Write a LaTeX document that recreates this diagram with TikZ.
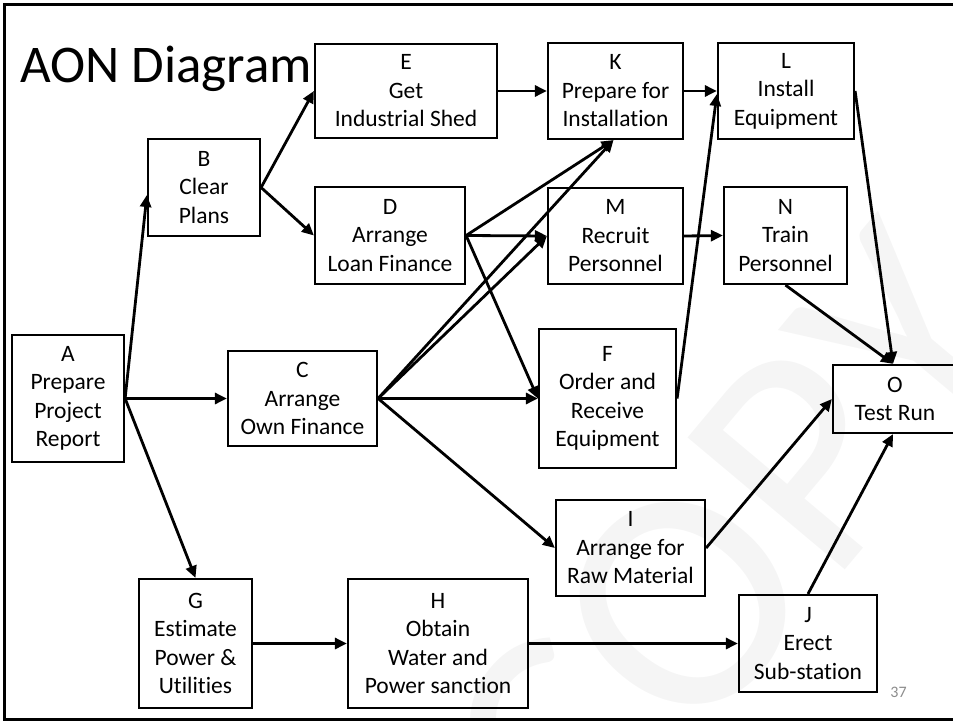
\documentclass[tikz,border=0pt]{standalone}
\usepackage{fontspec}
\setmainfont{Carlito}[Ligatures=NoCommon]
\usetikzlibrary{arrows.meta}
\begin{document}
\begin{tikzpicture}[x=1pt,y=-1pt,
  act/.style={draw, line width=2.2pt, inner sep=0pt, align=center,
    font=\fontsize{23.5}{28.5}\selectfont},
  link/.style={line width=2.8pt, -{Triangle[length=12pt,width=11pt]}},
  frameline/.style={line width=2.8pt}]
\useasboundingbox (0,0) rectangle (953,722);

% faint watermark behind the network
\begin{scope}
  \clip (4,4) rectangle (953,720);
  \node[text=black!4, rotate=50, inner sep=0pt,
    font=\fontsize{320}{320}\selectfont] (wm) at (732,545) {COPY};
\end{scope}

% slide frame
\draw[frameline] (960,4.5) -- (4.3,4.5) -- (4.3,719.5) -- (960,719.5);

% title and page number
\node[anchor=base west, inner sep=0pt, font=\fontsize{53}{60}\selectfont]
  (title) at (20,83) {AON Diagram};
\node[anchor=base, inner sep=0pt, text=black!45, font=\fontsize{16}{18}\selectfont]
  (pg) at (898.5,697) {37};

% activities
\node[act, minimum width=112pt, minimum height=127pt] (A) at (68,398.5)
  {A\\Prepare\\Project\\Report};
\node[act, minimum width=112pt, minimum height=97pt] (B) at (204,187.5)
  {B\\Clear\\Plans};
\node[act, minimum width=182pt, minimum height=94pt] (E) at (406,91)
  {E\\Get\\Industrial Shed};
\node[act, minimum width=150pt, minimum height=97pt] (D) at (390,235.5)
  {D\\Arrange\\Loan Finance};
\node[act, minimum width=135pt, minimum height=96pt] (K) at (615.5,91)
  {K\\Prepare for\\Installation};
\node[act, minimum width=136pt, minimum height=96pt] (L) at (786,91)
  {L\\Install\\Equipment};
\node[act, minimum width=135pt, minimum height=96pt] (M) at (615.5,236)
  {M\\Recruit\\Personnel};
\node[act, minimum width=123pt, minimum height=97pt] (N) at (785.5,235.5)
  {N\\Train\\Personnel};
\node[act, minimum width=149pt, minimum height=95pt] (C) at (302.5,398.5)
  {C\\Arrange\\Own Finance};
\node[act, minimum width=137pt, minimum height=139pt] (F) at (607.5,398.5)
  {F\\Order and\\Receive\\Equipment};
\node[act, minimum width=124pt, minimum height=68pt] (O) at (895,399)
  {O\\Test Run};
\node[act, minimum width=149pt, minimum height=96pt] (I) at (630.5,548)
  {I\\Arrange for\\Raw Material};
\node[act, minimum width=138pt, minimum height=97pt] (J) at (808,643.5)
  {J\\Erect\\Sub-station};
\node[act, minimum width=113pt, minimum height=129pt] (G) at (195.5,643.5)
  {G\\Estimate\\Power \&\\Utilities};
\node[act, minimum width=180pt, minimum height=129pt] (H) at (438,643.5)
  {H\\Obtain\\Water and\\Power sanction};

% precedence links
\draw[link] (A.east) -- ([yshift=-7.5pt]B.west);
\draw[link] (A.east) -- (C.west);
\draw[link] (A.east) -- (G.north);
\draw[link] (B.east) -- (E.west);
\draw[link] (B.east) -- (D.west);
\draw[link] (E.east) -- (K.west);
\draw[link] (K.east) -- (L.west);
\draw[link] (D.east) -- ([xshift=-2pt]K.south);
\draw[link] (D.east) -- (M.west);
\draw[link] (D.east) -- (F.west);
\draw[link] (C.east) -- ([xshift=-2pt]K.south);
\draw[link] (C.east) -- (M.west);
\draw[link] (C.east) -- (F.west);
\draw[link] (C.east) -- (I.west);
\draw[link] (M.east) -- (N.west);
\draw[link] (F.east) -- ([yshift=-3pt]L.west);
\draw[link] (L.east) -- ([xshift=-2pt]O.north);
\draw[link] (N.south) -- ([xshift=-2pt]O.north);
\draw[link] (I.east) -- (O.west);
\draw[link] (J.north) -- ([xshift=-2pt]O.south);
\draw[link] (G.east) -- (H.west);
\draw[link] (H.east) -- (J.west);
\end{tikzpicture}
\end{document}
